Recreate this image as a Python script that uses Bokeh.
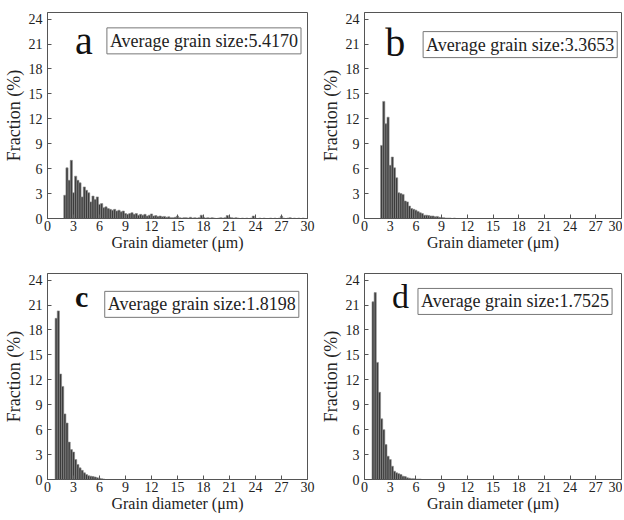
from bokeh.plotting import figure
from bokeh.layouts import column, row
from bokeh.models import Label, FixedTicker
from bokeh.embed import file_html
from bokeh.resources import INLINE

# ---- data ----
bin_width = 0.25
x_ticks = [0, 3, 6, 9, 12, 15, 18, 21, 24, 27, 30]
y_ticks = [0, 3, 6, 9, 12, 15, 18, 21, 24]

a_start = 2.0
a_values = [2.8, 6.1, 4.6, 7.0, 3.1, 5.1, 4.6, 4.3, 2.6, 3.8, 3.4, 3.1, 2.0, 2.7, 2.3, 2.6,
            1.7, 1.8, 1.3, 1.4, 1.2, 1.1, 1.0, 1.1, 0.9, 1.0, 0.8, 0.9, 0.6, 0.5, 0.6, 0.7,
            0.5, 0.6, 0.4, 0.5, 0.4, 0.5, 0.3, 0.4, 0.55, 0.3, 0.35, 0.25, 0.3, 0.2, 0.25, 0.15,
            0.2, 0.1, 0.1, 0.15, 0.3, 0.1, 0.05, 0.1, 0.1, 0.05, 0.15, 0.05, 0.1, 0.05, 0.1, 0.4,
            0.15, 0.05, 0.1, 0.05, 0.1, 0.05, 0.0, 0.05, 0.1, 0.05, 0.1, 0.35, 0.15, 0.1, 0.05, 0.1,
            0.05, 0.0, 0.05, 0.0, 0.05, 0.0, 0.05, 0.3, 0.05, 0.0, 0.05, 0.0, 0.05, 0.0, 0.0, 0.05,
            0.0, 0.05, 0.0, 0.05, 0.3, 0.05, 0.0, 0.05, 0.1, 0.0, 0.05, 0.0, 0.05, 0.0, 0.05]

b_start = 2.0
b_values = [8.8, 14.1, 11.4, 12.2, 6.4, 7.4, 6.1, 4.9, 3.1, 3.0, 2.9, 2.1, 2.0, 1.5, 1.2, 1.1,
            1.0, 0.85, 0.7, 0.6, 0.4, 0.4, 0.35, 0.3, 0.3, 0.2, 0.25, 0.15, 0.1, 0.1, 0.05, 0.05,
            0.05, 0.0, 0.05]

c_start = 1.0
c_values = [19.4, 20.3, 12.7, 11.2, 7.9, 6.8, 4.5, 3.6, 3.3, 2.4, 1.8, 1.4, 1.1, 0.8, 0.6, 0.45,
            0.4, 0.35, 0.3, 0.2, 0.15, 0.1, 0.05]

d_start = 1.0
d_values = [21.4, 22.5, 14.1, 10.5, 7.3, 6.0, 4.2, 2.8, 2.4, 1.6, 1.0, 0.8, 0.7, 0.6, 0.4, 0.35,
            0.2, 0.15, 0.1, 0.1, 0.05, 0.05, 0.05]

letters = ["a", "b", "c", "d"]
avg_sizes = ["5.4170", "3.3653", "1.8198", "1.7525"]
x_label = "Grain diameter (\u03bcm)"
y_label = "Fraction (%)"

FONT = "Liberation Serif"


def make_panel(start, values, letter, avg, fw, fh, bl, br, bt, bb,
               lx, ly, lsize, lstyle, boxx, boxy):
    p = figure(frame_width=fw, frame_height=fh,
               min_border_left=bl, min_border_right=br,
               min_border_top=bt, min_border_bottom=bb,
               x_range=(0, 30), y_range=(0, 24.8),
               output_backend="svg", toolbar_location=None)
    centers = [start + i * bin_width for i in range(len(values))]
    p.vbar(x=centers, top=values, width=bin_width,
           fill_color="#3b3b3b", line_color="#8c8c8c", line_width=0.6)

    p.xgrid.visible = False
    p.ygrid.visible = False
    p.outline_line_color = "#555555"
    p.outline_line_width = 1
    p.background_fill_color = "white"
    p.border_fill_color = "white"

    p.xaxis.ticker = FixedTicker(ticks=x_ticks)
    p.yaxis.ticker = FixedTicker(ticks=y_ticks)
    for ax in (p.xaxis, p.yaxis):
        ax.axis_line_color = "#555555"
        ax.major_tick_line_color = "#555555"
        ax.major_tick_in = 4
        ax.major_tick_out = 0
        ax.minor_tick_in = 0
        ax.minor_tick_out = 0
        ax.major_label_text_font = FONT
        ax.major_label_text_font_size = "14px"
        ax.major_label_text_color = "#222222"
        ax.axis_label_text_font = FONT
        ax.axis_label_text_font_style = "normal"
        ax.axis_label_text_color = "#222222"
    p.xaxis.axis_label_text_font_size = "16px"
    p.yaxis.axis_label_text_font_size = "18px"
    p.xaxis.major_label_standoff = 2
    p.yaxis.major_label_standoff = 5
    p.xaxis.axis_label_standoff = 0
    p.yaxis.axis_label_standoff = 2
    p.xaxis.axis_label = x_label
    p.yaxis.axis_label = y_label

    p.add_layout(Label(x=lx, y=ly, text=letter, text_font=FONT,
                       text_font_size=lsize, text_font_style=lstyle,
                       text_align="center", text_baseline="alphabetic",
                       text_color="#111111"))
    p.add_layout(Label(x=boxx, y=boxy, text="Average grain size:" + avg,
                       anchor="top_right", text_font=FONT, text_font_size="18px",
                       text_color="#222222", border_line_color="#777777",
                       border_line_width=1, background_fill_color="white",
                       padding=3))
    return p


pa = make_panel(a_start, a_values, letters[0], avg_sizes[0], 260, 206, 44, 10, 12, 51,
                4.2, 21.4, "40px", "normal", 29.25, 22.95)
pb = make_panel(b_start, b_values, letters[1], avg_sizes[1], 257, 206, 44, 1, 12, 51,
                3.6, 21.2, "40px", "normal", 29.5, 22.5)
pc = make_panel(c_start, c_values, letters[2], avg_sizes[2], 260, 206, 44, 10, 4, 37,
                3.95, 22.0, "30px", "bold", 29.0, 22.65)
pd = make_panel(d_start, d_values, letters[3], avg_sizes[3], 257, 206, 44, 1, 4, 37,
                4.2, 22.0, "34px", "normal", 28.9, 23.0)

layout = column(row(pa, pb, spacing=0), row(pc, pd, spacing=0), spacing=0)

open("out.html", "w").write(file_html(layout, INLINE))
